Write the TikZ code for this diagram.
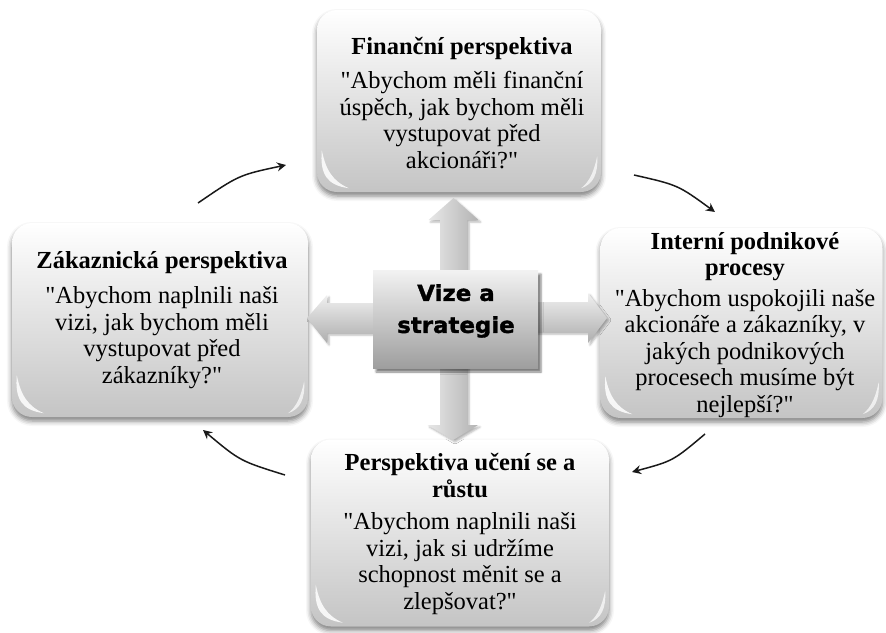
\documentclass[tikz,border=0pt]{standalone}
\usepackage{fontspec}
\setmainfont{Liberation Serif}[Ligatures=TeXOff]
\newfontfamily\centrefont{DejaVu Sans}[FakeStretch=1.04, BoldFeatures={FakeBold=1.5}]
\usetikzlibrary{calc,arrows.meta,shadows.blur}

\tikzset{
  panel/.style={rounded corners=20pt, draw=none, inner sep=0pt,
    top color=white, bottom color=black!23,
    blur shadow={shadow xshift=0pt, shadow yshift=-4pt,
      shadow blur radius=5pt, shadow opacity=50}},
  paneltext/.style={align=center, inner sep=0pt,
    font=\fontsize{24.5}{26.5}\selectfont},
  hub/.style={draw=none, inner sep=0pt, minimum width=165pt, minimum height=98pt,
    top color=black!5, bottom color=black!38,
    blur shadow={shadow xshift=3pt, shadow yshift=-4pt,
      shadow blur radius=2pt, shadow opacity=50}},
  hubtext/.style={align=center, inner sep=0pt, anchor=north,
    font=\centrefont\bfseries\fontsize{22}{32}\selectfont},
  blockv/.style={left color=black!9, right color=black!30, draw=none,
    blur shadow={shadow xshift=2pt, shadow yshift=-2pt,
      shadow blur radius=2pt, shadow opacity=30}},
  blockh/.style={top color=black!6, bottom color=black!32, draw=none,
    blur shadow={shadow xshift=2pt, shadow yshift=-2pt,
      shadow blur radius=2pt, shadow opacity=30}},
  cycle arrow/.style={line width=1.5pt, black!90,
    -{Stealth[length=9pt, width=9pt, inset=3pt]}},
  glossleft/.pic={\fill[white, opacity=.85] (5,-42) .. controls (3,-18) and (10,-7) .. (32,-4)
      .. controls (16,-11) and (9,-22) .. cycle;},
  glossright/.pic={\fill[white, opacity=.7] (-4,-36) .. controls (-3,-18) and (-8,-8) .. (-20,-4)
      .. controls (-11,-11) and (-7,-22) .. cycle;},
}

\begin{document}
\begin{tikzpicture}[x=1pt, y=-1pt]
  \useasboundingbox (0,0) rectangle (886,632);

  % the four perspective panels
  \node[panel, minimum width=284pt, minimum height=182pt] (fin) at (459,101) {};
  \node[panel, minimum width=296pt, minimum height=194pt] (cust) at (160,320) {};
  \node[panel, minimum width=282pt, minimum height=190pt] (proc) at (741.5,323) {};
  \node[panel, minimum width=298pt, minimum height=187pt] (learn) at (460,533) {};
  \foreach \p in {fin,cust,proc,learn}{
    \pic at (\p.south west) {glossleft};
    \pic at (\p.south east) {glossright};
  }

  \node[paneltext] (fint) at (462,103)
    {\textbf{Finanční perspektiva}\\[8pt]
     "Abychom měli finanční\\ úspěch, jak bychom měli\\ vystupovat před\\ akcionáři?"};
  \node[paneltext] (custt) at (162,320)
    {\textbf{Zákaznická perspektiva}\\[9pt]
     "Abychom naplnili naši\\ vizi, jak bychom měli\\ vystupovat před\\ zákazníky?"};
  \node[paneltext] (proct) at (745,325)
    {\textbf{Interní podnikové}\\ \textbf{procesy}\\[4pt]
     "Abychom uspokojili naše\\ akcionáře a zákazníky, v\\ jakých podnikových\\
     procesech musíme být\\ nejlepší?"};
  \node[paneltext] (learnt) at (460,534)
    {\textbf{Perspektiva učení se a}\\ \textbf{růstu}\\[6pt]
     "Abychom naplnili naši\\ vizi, jak si udržíme\\ schopnost měnit se a\\ zlepšovat?"};

  % centre: block arrows towards the panels
  \coordinate (c0) at (455.5,319);
  \path[blockv] ($(c0)+(-15.5,-40)$) -- ($(c0)+(-15.5,-99)$) -- ($(c0)+(-27,-99)$)
    -- ($(c0)+(-2,-121)$) -- ($(c0)+(23,-99)$) -- ($(c0)+(11.5,-99)$)
    -- ($(c0)+(11.5,-40)$) -- cycle;
  \path[blockv] ($(c0)+(-15.5,40)$) -- ($(c0)+(-15.5,106)$) -- ($(c0)+(-28,106)$)
    -- ($(c0)+(-2.5,121)$) -- ($(c0)+(22.5,106)$) -- ($(c0)+(11.5,106)$)
    -- ($(c0)+(11.5,40)$) -- cycle;
  \path[blockh] ($(c0)+(70,-17)$) -- ($(c0)+(132.5,-17)$) -- ($(c0)+(132.5,-26)$)
    -- ($(c0)+(151.5,-1)$) -- ($(c0)+(132.5,24)$) -- ($(c0)+(132.5,13)$)
    -- ($(c0)+(70,13)$) -- cycle;
  \path[blockh] ($(c0)+(-70,-16)$) -- ($(c0)+(-128.5,-16)$) -- ($(c0)+(-128.5,-24)$)
    -- ($(c0)+(-148.5,-1)$) -- ($(c0)+(-128.5,24)$) -- ($(c0)+(-128.5,14)$)
    -- ($(c0)+(-70,14)$) -- cycle;

  % centre box
  \node[hub] (hub) at (c0) {};
  \node[hubtext] (hubt) at (456,284) {Vize a\\strategie};

  % cycle arrows between the panels
  \coordinate (a1s) at (198,203);  \coordinate (a1e) at (286,165);
  \coordinate (a2s) at (634,175);  \coordinate (a2e) at (715,212);
  \coordinate (a3s) at (705,434);  \coordinate (a3e) at (632,472);
  \coordinate (a4s) at (285,475);  \coordinate (a4e) at (203,430);
  \draw[cycle arrow] (a1s) .. controls (239,175) .. (a1e);
  \draw[cycle arrow] (a2s) .. controls (678,185) .. (a2e);
  \draw[cycle arrow] (a3s) .. controls (673,461) .. (a3e);
  \draw[cycle arrow] (a4s) .. controls (240,461) .. (a4e);
\end{tikzpicture}
\end{document}
